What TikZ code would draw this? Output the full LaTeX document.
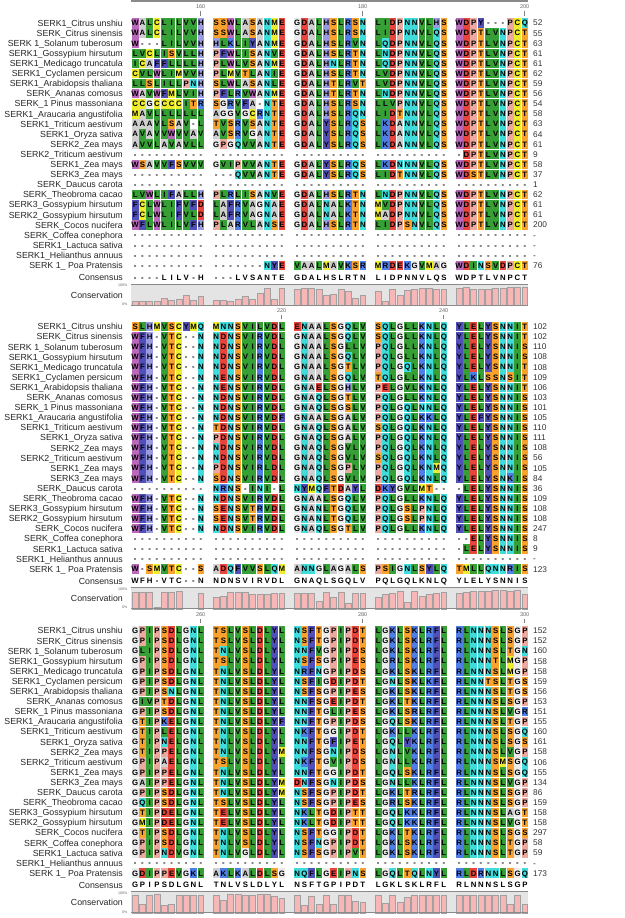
\documentclass[tikz,border=0pt]{standalone}
\usepackage{fontspec}
\setmainfont{Liberation Sans}
\definecolor{cDE}{HTML}{E8453C}
\definecolor{cCM}{HTML}{EDED2E}
\definecolor{cKR}{HTML}{4F7FE6}
\definecolor{cST}{HTML}{F9A22E}
\definecolor{cFY}{HTML}{5050B8}
\definecolor{cNQ}{HTML}{40DCDC}
\definecolor{cG}{HTML}{EBEBEB}
\definecolor{cLVI}{HTML}{36A036}
\definecolor{cA}{HTML}{CFCFCF}
\definecolor{cW}{HTML}{BA68BA}
\definecolor{cH}{HTML}{9A9AE0}
\definecolor{cP}{HTML}{EBA9A0}
\definecolor{barpink}{HTML}{F7B7B7}
\definecolor{boxgray}{HTML}{E4E4E4}
\definecolor{linegray}{HTML}{8A8A8A}
\definecolor{numgray}{HTML}{333333}
\makeatletter
\@namedef{rc@D}{cDE}\@namedef{rc@E}{cDE}
\@namedef{rc@C}{cCM}\@namedef{rc@M}{cCM}
\@namedef{rc@K}{cKR}\@namedef{rc@R}{cKR}
\@namedef{rc@S}{cST}\@namedef{rc@T}{cST}
\@namedef{rc@F}{cFY}\@namedef{rc@Y}{cFY}
\@namedef{rc@N}{cNQ}\@namedef{rc@Q}{cNQ}
\@namedef{rc@G}{cG}
\@namedef{rc@L}{cLVI}\@namedef{rc@V}{cLVI}\@namedef{rc@I}{cLVI}
\@namedef{rc@A}{cA}
\@namedef{rc@W}{cW}
\@namedef{rc@H}{cH}
\@namedef{rc@P}{cP}
\newif\ifsqbg \sqbgtrue
\newcommand\rescell[1]{%
  \ifsqbg\ifcsname rc@#1\endcsname
    \rlap{\color{\csname rc@#1\endcsname}\kern0.3pt\rule[-1.95pt]{6.7pt}{9.5pt}}%
  \fi\fi
  \hbox to 7.3pt{\hss #1\hss}}
\newcommand\sqgroup[1]{\@tfor\sq@ch:=#1\do{\expandafter\rescell\expandafter{\sq@ch}}}
\def\sq@five#1 #2 #3 #4 #5\relax{\hbox{\sqgroup{#1}\kern8pt\sqgroup{#2}\kern8pt\sqgroup{#3}\kern8pt\sqgroup{#4}\kern8pt\sqgroup{#5}}}
\newcommand\seqbox[1]{\sq@five#1\relax}
\makeatother
\newcommand\srow[4]{%
  \pgfmathsetmacro\rowy{#1+#2*10.1}%
  \node[resrow] at (131.3,\rowy+2.8) {\seqbox{#3}};
  \node[num] at (533,\rowy) {#4};}
\newcommand\conseq[2]{%
  \node[resrow] at (131.3,#1+2.8) {\sqbgfalse\seqbox{#2}};}
\newcommand\names[1]{%
  \foreach \nm [count=\k from 0] in {SERK1\_Citrus unshiu,SERK\_Citrus sinensis,SERK 1\_Solanum tuberosum,SERK1\_Gossypium hirsutum,SERK1\_Medicago truncatula,SERK1\_Cyclamen persicum,SERK1\_Arabidopsis thaliana,SERK\_Ananas comosus,SERK\_1 Pinus massoniana,SERK1\_Araucaria angustifolia,SERK1\_Triticum aestivum,SERK1\_Oryza sativa,SERK2\_Zea mays,SERK2\_Triticum aestivum,SERK1\_Zea mays,SERK3\_Zea mays,SERK\_Daucus carota,SERK\_Theobroma cacao,SERK3\_Gossypium hirsutum,SERK2\_Gossypium hirsutum,SERK\_Cocos nucifera,SERK\_Coffea conephora,SERK1\_Lactuca sativa,SERK1\_Helianthus annuus,SERK 1\_ Poa Pratensis}
    {\node[seqname] at (123,#1+\k*10.1) {\nm};}
  \node[seqname] at (123,#1+254.8) {Consensus};
  \node[seqname] at (123,#1+272) {Conservation};
  \node[tinylab] at (127.5,#1+262.5) {100\%};
  \node[tinylab] at (127.5,#1+281) {0\%};}
\newcommand\consbox[2]{%
  \fill[boxgray] (131.3,#1+261) rectangle (528.3,#1+282);
  \foreach \h [count=\i from 0] in {#2} {
    \pgfmathsetmacro\bx{131.3+floor(\i/10)*81+mod(\i,10)*7.3+0.7}
    \ifdim \h pt>0.01pt
      \filldraw[fill=barpink,draw=linegray!80,line width=0.4pt] (\bx,#1+282) rectangle ++(5.9,-\h*20.5);
    \fi
  }
  \draw[linegray,line width=0.8pt] (131.3,#1+261) -- (528.3,#1+261);
  \draw[linegray,line width=0.8pt] (131.3,#1+282) -- (528.3,#1+282);}
\newcommand\rulermark[3]{%
  \pgfmathsetmacro\rx{131.3+floor(#2/10)*81+mod(#2,10)*7.3+3.65}
  \node[rul] at (\rx,#1-16.5) {#3};
  \draw[gray,line width=0.6pt] (\rx,#1-12) -- (\rx,#1-7.5);}
\tikzset{
  resrow/.style={font=\bfseries\fontsize{7.8}{8}\selectfont, inner sep=0pt, anchor=base west},
  seqname/.style={font=\fontsize{8.8}{10}\selectfont, inner sep=0pt, text height=6.3pt, text depth=0pt, anchor=east, text=black!85},
  num/.style={font=\fontsize{8.3}{10}\selectfont, inner sep=0pt, text height=5.9pt, text depth=0pt, anchor=west, text=numgray},
  rul/.style={font=\fontsize{5.5}{6}\selectfont, inner sep=0pt, text=black!60},
  tinylab/.style={font=\fontsize{3.6}{4}\selectfont, inner sep=0pt, anchor=east, text=black!60}
}
\begin{document}
\begin{tikzpicture}[x=1pt,y=-1pt]
\useasboundingbox (0,0) rectangle (624,918);
\fill[white] (0,0) rectangle (624,918);
\draw[linegray,line width=1.2pt] (131.3,1) -- (528.3,1);
% ---------------- block 1 ----------------
\def\fy{23}
\names{\fy}
\rulermark{\fy}{9}{160}\rulermark{\fy}{29}{180}\rulermark{\fy}{49}{200}
\srow{\fy}{0}{WALCLILVVH SSWLASANME GDALHSLRSN LIDPNNVLHS WDPY---PCQ}{52}
\srow{\fy}{1}{WALCLILVVH SSWLASANME GDALHSLRSN LIDPNNVLQS WDPTLVNPCT}{55}
\srow{\fy}{2}{W---LILVVH HLKLIYANME GDALHSLRVN LQDPNNVLQS WDPTLVNPCT}{63}
\srow{\fy}{3}{LVCLISVLLH PFWLISANVE GDALHSLRTN LNDPNNVLQS WDPTLVNPCT}{61}
\srow{\fy}{4}{ICAFFLLLLH PLWLVSANME GDALHNLRTN LQDPNNVLQS WDPTLVNPCT}{61}
\srow{\fy}{5}{CVLWLIMVVH PLMVTLANIE GDALHSLRTN LVDPNNVLQS WDPTLVNPCT}{62}
\srow{\fy}{6}{LLSLILLPNH SLWLASANLE GDALHTLRVT LVDPNNVLQS WDPTLVNPCT}{59}
\srow{\fy}{7}{WAVWFMLVIH PFLRVWANME GDALHTLRTN LNDPNNVLQS WDPTLVNPCT}{56}
\srow{\fy}{8}{CCGCCCCITR SGRVFA-NTE GDALHSLRSN LLVPNNVLQS WDPTLVNPCT}{54}
\srow{\fy}{9}{MAVLLLLLLL AGGVGCRNTE GDALHSLRQN LIDTNNVLQS WDPTLVNPCT}{58}
\srow{\fy}{10}{AAAVLSAV-L TVSRVSANTE GDALYSLRQS LKDANNVLQS WDPTLVNPCT}{63}
\srow{\fy}{11}{AVAVVWVVAV AVSRVGANTE GDALYSLRQS LKDANNVLQS WDPTLVNPCT}{64}
\srow{\fy}{12}{AVVLAVAVLL GPGQVVANTE GDALYSLRQS LKDANNVLQS WDPTLVNPCT}{61}
\srow{\fy}{13}{---------- ---------- ---------- ---------- -DPTLVNPCT}{9}
\srow{\fy}{14}{WSAVVFSVVV GVIPVVANTE GDALYSLRQS LKDNNNVLQS WDPTLVNPCT}{58}
\srow{\fy}{15}{---------- ---QVVANTE GDALYSLRQS LIDTNNVLQS WDSTLVNPCT}{37}
\srow{\fy}{16}{---------- ---------- ---------- ---------- ----------}{1}
\srow{\fy}{17}{LVWLIFALLH PLRLISANVE GDALHSLRTN LNDPNNVLQS WDPTLVNPCT}{62}
\srow{\fy}{18}{FCLWLIFVFD LAFRVAGNAE GDALNALKTN MVDPNNVLQS WDPTLVNPCT}{61}
\srow{\fy}{19}{FCLWLIFVLD LAFRVAGNAE GDALNALKTN MADPNNVLQS WDPTLVNPCT}{61}
\srow{\fy}{20}{WFLWLILVFH PLARVLANSE GDALHSLRTN LIDPSNVLQS WDPTLVNPCT}{200}
\srow{\fy}{21}{---------- ---------- ---------- ---------- ----------}{-}
\srow{\fy}{22}{---------- ---------- ---------- ---------- ----------}{-}
\srow{\fy}{23}{---------- ---------- ---------- ---------- ----------}{-}
\srow{\fy}{24}{---------- -------NYE VAALMAVKSR MRDEKGVMAG WDINSVDPCT}{76}
\conseq{277.3}{----LILV-H ---LVSANTE GDALHSLRTN LIDPNNVLQS WDPTLVNPCT}
\consbox{\fy}{0.2,0.2,0.2,0.2,0.35,0.25,0.3,0.5,0.25,0.42, 0.25,0.25,0.2,0.28,0.42,0.3,0.58,0.83,0.28,0.83, 0.75,0.8,0.8,0.78,0.5,0.55,0.75,0.67,0.32,0.5, 0.67,0.17,0.75,0.5,0.72,0.78,0.83,0.8,0.75,0.75, 0.83,0.87,0.78,0.78,0.78,0.83,0.8,0.87,0.87,0.85}
% ---------------- block 2 ----------------
\def\fy{326.7}
\names{\fy}
\rulermark{\fy}{19}{220}\rulermark{\fy}{39}{240}
\srow{\fy}{0}{SLHMVSCYMQ MNNSVILVDL ENAALSGQLV SQLGLLKNLQ YLELYSNNIT}{102}
\srow{\fy}{1}{WFH-VTC--N NDNSVIRVDL GNAALSGQLV SQLGLLKNLQ YLELYSNNIT}{102}
\srow{\fy}{2}{WFH-VTC--N NDNSVIRVDL GNAALSGLLV PQLGLLKNLQ YLELYSNNIS}{110}
\srow{\fy}{3}{WFH-VTC--N NDNSVIRVDL GNAALSGQLV PQLGLLKNLQ YLELYSNNIS}{108}
\srow{\fy}{4}{WFH-VTC--N NDNSVIRVDL GNAALSGTLV PQLGQLKNLQ YLELYSNNIT}{108}
\srow{\fy}{5}{WFH-VTC--N NENSVIRVDL GNAALSGQLV TQLGLLKNLQ YLKLSSNSIT}{109}
\srow{\fy}{6}{WFH-VTC--N NENSVIRVDL GNAELSGHLV PELGVLKNLQ YLELYSNNIT}{106}
\srow{\fy}{7}{WFH-VTC--N NDNSVIRVDL GNAQLSGTLV PQLGLLKNLQ YLELYSNNIS}{103}
\srow{\fy}{8}{WFH-VTC--N NDNSVIRVDL GNAQLSGSLV PQLGQLNNLQ YLELYSNNIS}{101}
\srow{\fy}{9}{WFH-VTC--N NDNSVIRVDF GNAALSGALV PQLGQLKKLQ YLEFYSNNIS}{105}
\srow{\fy}{10}{WFH-VTC--N TDNSVIRVDL GNAQLSGALV SQLGQLKNLQ YLELYSNNIS}{110}
\srow{\fy}{11}{WFH-VTC--N PDNSVIRVDL GNAQLSGALV PQLGQLKNLQ YLELYSNNIS}{111}
\srow{\fy}{12}{WFH-VTC--N NDNSVIRVDL GNAQLSGVLV PQLGQLKNLQ YLELYSNNIS}{108}
\srow{\fy}{13}{WFH-VTC--N NDNSVIRVDL GNAQLSGVLV SQLGQLKNLQ YLELYSNNIS}{56}
\srow{\fy}{14}{WFH-VTC--N PDNSVIRLDL GNAQLSGPLV PQLGQLKNMQ YLELYSNNIS}{105}
\srow{\fy}{15}{WFH-VTC--N SDNSVIRVDL GNAQLSGVLV PQLGQLKNLQ YLELYSNKIS}{84}
\srow{\fy}{16}{---------- NRNS-INI-L NYMQFTDAYL DKYGVLMT-- -LELYSNNIS}{36}
\srow{\fy}{17}{WFH-VTC--N NDNSVIRVDL GNAALSGQLV PQLGLLKNLQ YLELYSNNIS}{109}
\srow{\fy}{18}{WFH-VTC--N SENSVTRVDL GNANLTGQLV PQLGSLPNLQ YLELYSNNIS}{108}
\srow{\fy}{19}{WFH-VTC--N SENSVTRVDL GNANLTGQLV PQLGSLPNLQ YLELYSNNIS}{108}
\srow{\fy}{20}{WFH-VTC--N NDNSVIRVDL GNAQLSGTLV PQLGLLKNLQ YLELYSNNIS}{247}
\srow{\fy}{21}{---------- ---------- ---------- ---------- --ELYSNNIS}{8}
\srow{\fy}{22}{---------- ---------- ---------- ---------- -LELYSNNIS}{9}
\srow{\fy}{23}{---------- ---------- ---------- ---------- ----------}{-}
\srow{\fy}{24}{W-SMVTC--S ADQFVVSLQM ANNGLAGALS PSIGNLSYLQ TMLLQNNRIS}{123}
\conseq{581.0}{WFH-VTC--N NDNSVIRVDL GNAQLSGQLV PQLGQLKNLQ YLELYSNNIS}
\consbox{\fy}{0.8,0.8,0.8,0.05,0.8,0.8,0.85,0,0,0.75, 0.58,0.62,0.8,0.8,0.8,0.7,0.7,0.7,0.75,0.75, 0.75,0.78,0.75,0.37,0.8,0.58,0.82,0.25,0.75,0.75, 0.58,0.7,0.75,0.83,0.33,0.83,0.63,0.7,0.75,0.8, 0.75,0.8,0.83,0.83,0.83,0.88,0.9,0.83,0.9,0.72}
% ---------------- block 3 ----------------
\def\fy{630.8}
\names{\fy}
\rulermark{\fy}{9}{260}\rulermark{\fy}{29}{280}\rulermark{\fy}{49}{300}
\srow{\fy}{0}{GPIPSDLGNL TSLVSLDLYL NSFTGPIPDT LGKLSKLRFL RLNNNSLSGP}{152}
\srow{\fy}{1}{GPIPSDLGNL TSLVSLDLYL NSFTGPIPDT LGKLSKLRFL RLNNNSLSGP}{152}
\srow{\fy}{2}{GLIPSDLGNL TNLVSLDLYL NNFVGPIPDS LGKLSKLRFL RLNNNSLTGN}{160}
\srow{\fy}{3}{GPIPSDLGNL TSLVSLDLYL NSFSGPIPES LGRLSKLRFL RLNNNTLMGP}{158}
\srow{\fy}{4}{GPIPSDLGNL TNLVSLDLYL NRFNGPIPDS LGKLSKLRFL RLNNNSLMGP}{158}
\srow{\fy}{5}{GPIPSDLGNL TNLVSLDLYL NSFIGDIPDT LGNLSKLKFL RLNNTSLTGS}{159}
\srow{\fy}{6}{GPIPSNLGNL TNLVSLDLYL NSFSGPIPES LGKLSKLRFL RLNNNSLTGS}{156}
\srow{\fy}{7}{GIVPTDLGNL TNLVSLDLYL NNFSGEIPDT LGKLTKLRFL RLNNNSLSGP}{153}
\srow{\fy}{8}{GPIPSDLGNL TNLVSLDLYL NNFTGLIPES LGKLSRLRFL RLNNNSLVGR}{151}
\srow{\fy}{9}{GTIPKELGNL TNLVSLDLYF NNFTGPIPDS LGQLSKLRFL RLNNNSLTGP}{155}
\srow{\fy}{10}{GTIPLELGNL TNLVSLDLYL NKFTGGIPDT LGKLLKLRFL RLNNNSLSGQ}{160}
\srow{\fy}{11}{GTIPNELGNL TNLVSLDLYL NNFTGFIPET LGQLYKLRFL RLNNNSLSGS}{161}
\srow{\fy}{12}{GTIPPELGNL TNLVSLDLYM NNFSGNIPDS LGNLVKLRFL RLNNNSLVGP}{158}
\srow{\fy}{13}{GPIPAELGNL TSLVSLDLYL NKFTGVIPDS LGNLLKLRFL RLNNNSMSGQ}{106}
\srow{\fy}{14}{GPIPPELGNL TNLVSLDLYL NNFTGGIPDT LGQLSKLRFL RLNNNSLSGQ}{155}
\srow{\fy}{15}{GAIPPELGNL TNLVSLDLYM DNFSGNIPDS LGNLLKLRFL RLNNNSLVGP}{134}
\srow{\fy}{16}{GPIPSDLGNL TNLVSLDLYM NSFSGPIPDT LGKLTRLRFL RLNNNSLSGP}{86}
\srow{\fy}{17}{GQIPSDLGNL TSLVSLDLYL NSFSGPIPES LGRLSKLRFL RLNNNSLSGP}{159}
\srow{\fy}{18}{GTIPDELGNL TELVSLDLYL NKLTGDIPTT LGQLKKLRFL RLNNNSLAGT}{158}
\srow{\fy}{19}{GMIPDELGNL TELVSLDLYL NKLTGDIPTT LGQLKKLRFL RLNNNSLVGT}{158}
\srow{\fy}{20}{GTIPSDLGNL TNLVSLDLYL NSFTGGIPDT LGKLTKLRFL RLNNNSLSGS}{297}
\srow{\fy}{21}{GPIPSDLGNL TNLVSLDLYL NSFNGPIPDT LGKLSKLRFL RLNNNSLTGP}{58}
\srow{\fy}{22}{GPIPNDVGNL TNLVGLDLYL NSFSGPIPVT LGKLSKLRFL RLNNNSLTGP}{59}
\srow{\fy}{23}{---------- ---------- ---------- ---------- ----------}{-}
\srow{\fy}{24}{GDIPPEVGKL AKLKALDLSG NQFLGEIPNS LGQLTQLNYL RLDRNNLSGQ}{173}
\conseq{885.1}{GPIPSDLGNL TNLVSLDLYL NSFTGPIPDT LGKLSKLRFL RLNNNSLSGP}
\consbox{\fy}{0.85,0.4,0.85,0.9,0.35,0.4,0.85,0.87,0.87,0.87, 0.87,0.6,0.9,0.9,0.87,0.87,0.9,0.9,0.8,0.7, 0.87,0.38,0.83,0.4,0.87,0.4,0.87,0.87,0.55,0.5, 0.87,0.45,0.87,0.5,0.75,0.87,0.87,0.87,0.87,0.87, 0.87,0.87,0.87,0.87,0.87,0.87,0.87,0.42,0.87,0.42}
\end{tikzpicture}
\end{document}
